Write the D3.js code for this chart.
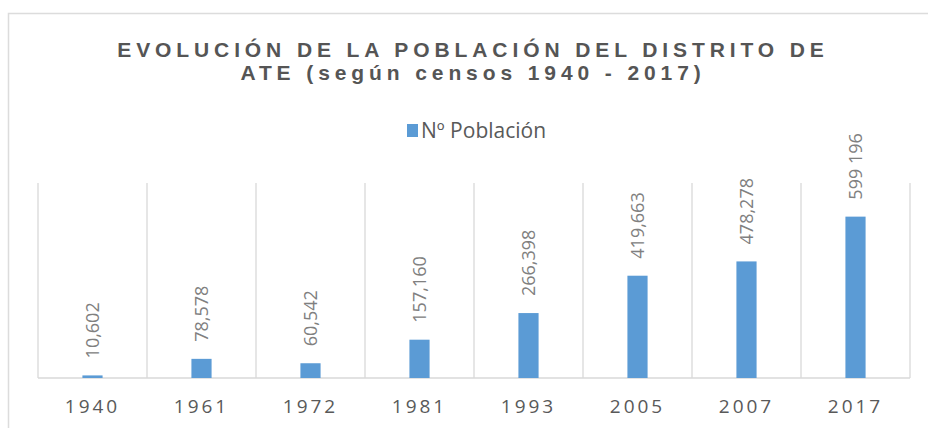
<!DOCTYPE html>
<html>
<head>
<meta charset="utf-8">
<script src="https://cdn.jsdelivr.net/npm/d3@7"></script>
<style>
  body { margin: 0; background: #fff; }
  svg { display: block; }
</style>
</head>
<body>
<svg id="chart"></svg>
<script>
const years = ["1940", "1961", "1972", "1981", "1993", "2005", "2007", "2017"];
// bar heights as drawn (the 2017 bar is taller than its label says)
const population = [10602, 78578, 60542, 157160, 266398, 419663, 478278, 662000];
const labels = ["10,602", "78,578", "60,542", "157,160", "266,398", "419,663", "478,278", "599 196"];
const titleLines = ["EVOLUCIÓN DE LA POBLACIÓN DEL DISTRITO DE", "ATE (según censos 1940 - 2017)"];
const legendName = "Nº Población";

const width = 928;
const height = 428;
const margin = {top: 183, right: 18, bottom: 50, left: 38};
const blue = "#5b9bd5";
const grid = "#d9d9d9";

const svg = d3.select("#chart")
  .attr("width", width)
  .attr("height", height)
  .attr("viewBox", `0 0 ${width} ${height}`);

// chart frame (only top and left edges are in view)
svg.append("path")
  .attr("d", `M8.5,${height} V13.5 H${width}`)
  .attr("fill", "none")
  .attr("stroke", "#dcdcdc")
  .attr("stroke-width", 1.5);

const x = d3.scaleBand()
  .domain(years)
  .range([margin.left, width - margin.right])
  .padding(0);

const y = d3.scaleLinear()
  .domain([0, 800000])
  .range([height - margin.bottom, margin.top]);

const barW = x.bandwidth() * 0.185;

// vertical category gridlines
const bounds = years.map(d => x(d)).concat([x.range()[1]]);
svg.append("g")
  .selectAll("line")
  .data(bounds)
  .enter()
  .append("line")
  .attr("x1", d => d)
  .attr("x2", d => d)
  .attr("y1", y(800000))
  .attr("y2", y(0))
  .attr("stroke", grid)
  .attr("stroke-width", 1.3);

// baseline
svg.append("line")
  .attr("x1", x.range()[0])
  .attr("x2", x.range()[1])
  .attr("y1", y(0))
  .attr("y2", y(0))
  .attr("stroke", grid)
  .attr("stroke-width", 1.5);

// bars
svg.append("g")
  .selectAll("rect")
  .data(population)
  .enter()
  .append("rect")
  .attr("x", (d, i) => x(years[i]) + x.bandwidth() / 2 - barW / 2)
  .attr("y", d => y(d))
  .attr("width", barW)
  .attr("height", d => y(0) - y(d))
  .attr("fill", blue);

// rotated data labels
svg.append("g")
  .selectAll("text")
  .data(population)
  .enter()
  .append("text")
  .attr("transform", (d, i) => `translate(${x(years[i]) + x.bandwidth() / 2},${y(d) - 17}) rotate(-90)`)
  .attr("dy", "0.36em")
  .attr("text-anchor", "start")
  .attr("font-family", "'Open Sans', sans-serif")
  .attr("font-size", 18)
  .attr("fill", "#808080")
  .text((d, i) => labels[i]);

// category axis labels
svg.append("g")
  .selectAll("text")
  .data(years)
  .enter()
  .append("text")
  .attr("x", d => x(d) + x.bandwidth() / 2)
  .attr("y", 413)
  .attr("text-anchor", "middle")
  .attr("font-family", "'Open Sans', sans-serif")
  .attr("font-size", 19)
  .attr("letter-spacing", 3)
  .attr("fill", "#595959")
  .text(d => d);

// title
svg.append("g")
  .selectAll("text")
  .data(titleLines)
  .enter()
  .append("text")
  .attr("x", 473)
  .attr("y", (d, i) => 57 + i * 23)
  .attr("text-anchor", "middle")
  .attr("font-family", "'Liberation Sans', Arial, sans-serif")
  .attr("font-weight", "bold")
  .attr("font-size", 21)
  .attr("letter-spacing", 4.9)
  .attr("fill", "#555555")
  .text(d => d);

// legend
const legend = svg.append("g").attr("transform", "translate(407,124)");
legend.append("rect")
  .attr("width", 11)
  .attr("height", 13)
  .attr("fill", blue);
legend.append("text")
  .attr("x", 14)
  .attr("y", 13.5)
  .attr("font-family", "'Open Sans', sans-serif")
  .attr("font-size", 21)
  .attr("fill", "#595959")
  .text(legendName);
</script>
</body>
</html>
